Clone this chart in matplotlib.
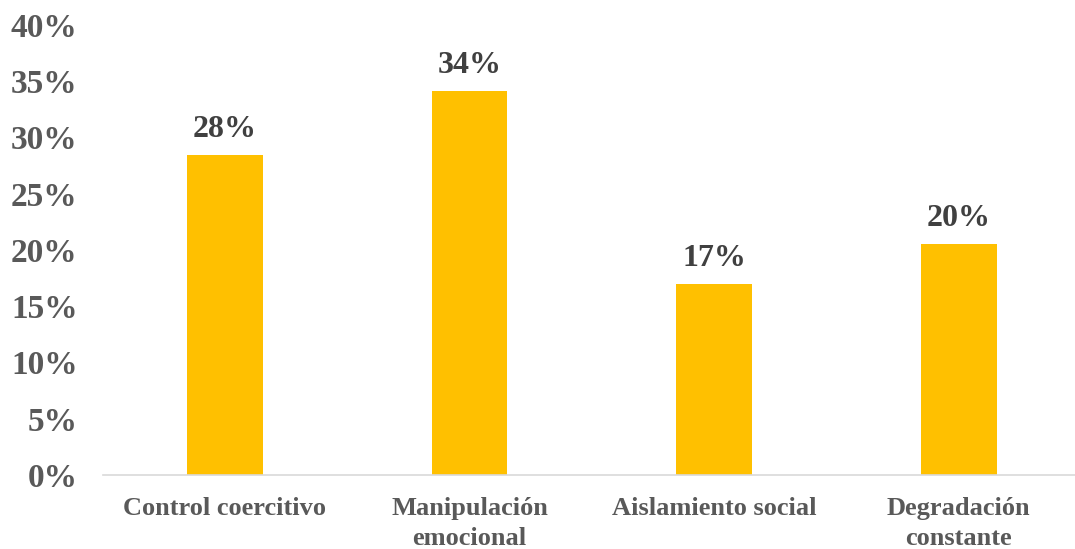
import matplotlib.pyplot as plt
from matplotlib.ticker import FuncFormatter

categorias = ['Control coercitivo', 'Manipulación\nemocional', 'Aislamiento social', 'Degradación\nconstante']
valores = [28.4, 34.1, 17.0, 20.5]
etiquetas = ['28%', '34%', '17%', '20%']
ticks_y = [0, 5, 10, 15, 20, 25, 30, 35, 40]

plt.rcParams['font.family'] = ['Liberation Serif', 'DejaVu Serif']
plt.rcParams['font.weight'] = 'bold'

fig = plt.figure(figsize=(10.75, 5.49), dpi=100)
ax = fig.add_axes([0.0955, 0.1348, 0.910, 0.8197])

x = range(len(categorias))
barras = ax.bar(x, valores, width=0.31, color='#FFC000', zorder=2)

for b, txt in zip(barras, etiquetas):
    ax.annotate(txt, (b.get_x() + b.get_width() / 2, b.get_height()),
                xytext=(0, 8), textcoords='offset points',
                ha='center', va='bottom', fontsize=23, fontweight='bold',
                color='#404040')

ax.set_xlim(-0.5, 3.5)
ax.set_ylim(0, 40)
ax.set_yticks(ticks_y)
ax.yaxis.set_major_formatter(FuncFormatter(lambda v, p: f'{v:.0f}%'))
ax.set_xticks(list(x))
ax.set_xticklabels(categorias, fontsize=19, fontweight='bold', color='#595959', linespacing=1.4)
ax.tick_params(axis='y', labelsize=24, colors='#595959', length=0, pad=18)
ax.tick_params(axis='x', length=0, pad=16)

for s in ['top', 'right', 'left']:
    ax.spines[s].set_visible(False)
ax.spines['bottom'].set_color('#D9D9D9')
ax.spines['bottom'].set_linewidth(1.2)

fig.savefig('out.png', dpi=100)
